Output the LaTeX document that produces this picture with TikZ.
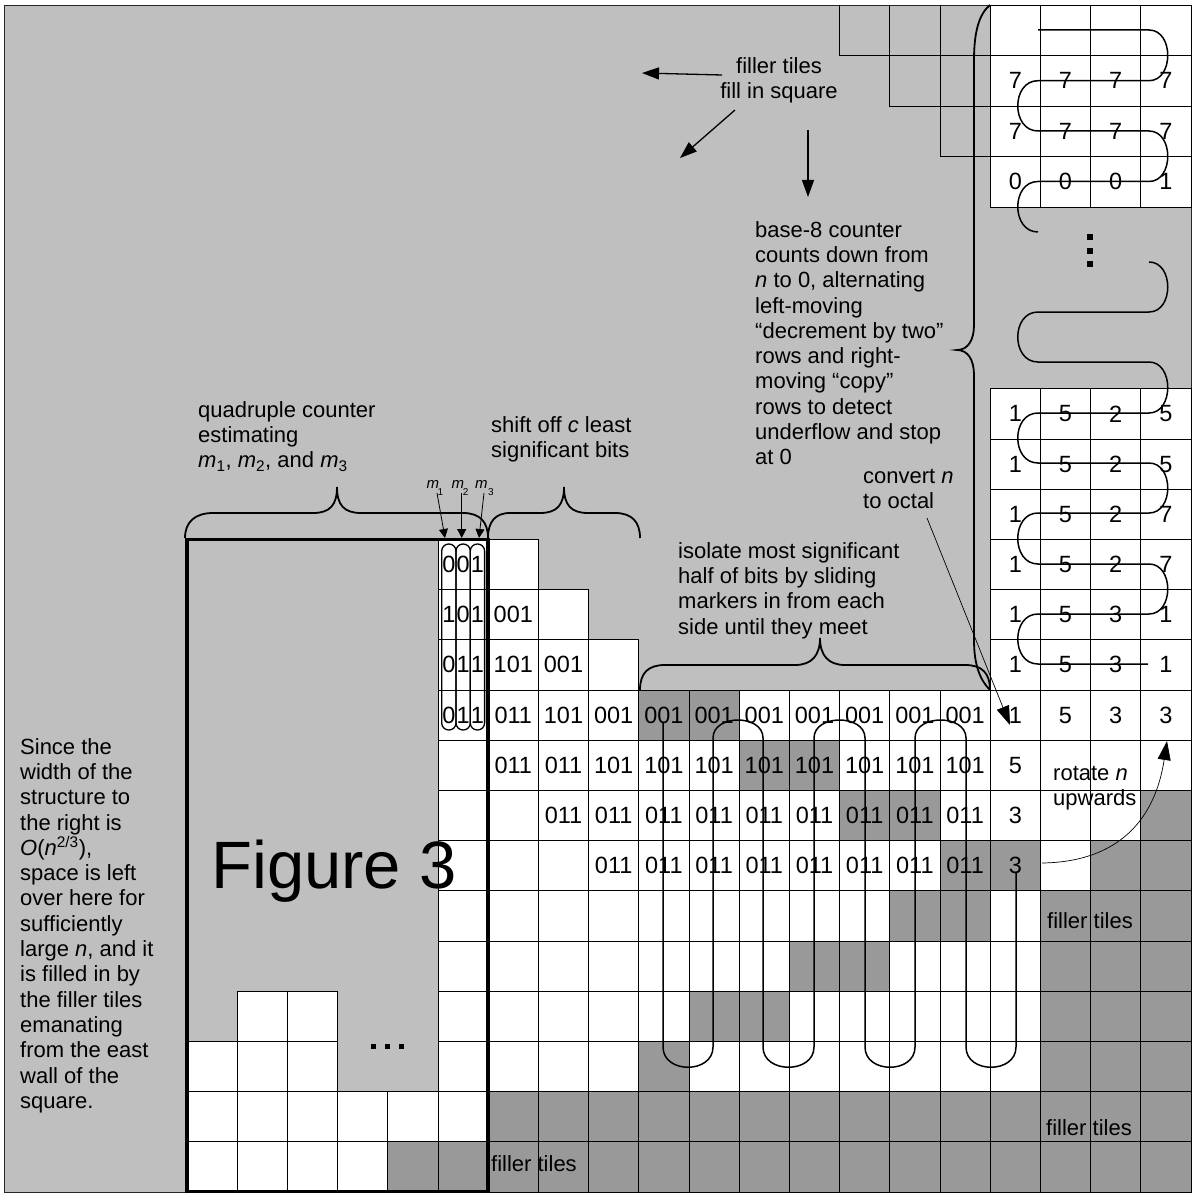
\documentclass[tikz,border=0pt]{standalone}
\usepackage{fontspec}
\setmainfont{Liberation Sans}
\usetikzlibrary{arrows.meta}
\definecolor{bgL}{HTML}{BFBFBF}
\definecolor{tileD}{HTML}{999999}
\newcommand\mytile[3]{\path[draw=black,line width=0.8pt,#1] ({187+50.2*(#2)},{539.4+50.2*((#3)-1)}) rectangle ++(50.2,50.2);}
\newcommand\mytxt[3]{\node[celltxt] (n#1r#2) at ({212.1+50.2*(#1)},{514.3+50.2*(#2)}) {#3};}
\begin{document}
\begin{tikzpicture}[x=1pt,y=-1pt,
  celltxt/.style={inner sep=0pt,font=\fontsize{23.5}{25}\selectfont},
  para/.style={inner sep=0pt,anchor=north west,align=left,font=\fontsize{22}{25.3}\selectfont},
  parac/.style={inner sep=0pt,anchor=north,align=center,font=\fontsize{22}{25.3}\selectfont},
  lbl/.style={inner sep=0pt,anchor=base west,font=\fontsize{22}{25.3}\selectfont},
  serp/.style={line width=1.5pt},
  brace/.style={line width=1.8pt},
  arr/.style={line width=1.3pt,-{Triangle[length=17pt,width=12pt]}},
  tarr/.style={line width=0.7pt,-{Triangle[length=19pt,width=13pt]}},
  marr/.style={line width=0.8pt,-{Triangle[length=9pt,width=9pt]}},
  mloop/.style={line width=1.3pt,rounded corners=7pt},
  mlab/.style={inner sep=0pt,anchor=base west,font=\fontsize{15}{15}\selectfont\itshape},
  msub/.style={inner sep=0pt,anchor=base west,font=\fontsize{10}{10}\selectfont}
]
\useasboundingbox (0,0) rectangle (1192,1193);
\draw[fill=bgL,draw=black!85,line width=0.9pt] (4,5) rectangle (1191,1192);

% top staircase outlines
\draw[line width=0.8pt] (839.6,5) -- (839.6,55.5) -- (990,55.5);
\draw[line width=0.8pt] (889.8,5) -- (889.8,106) -- (990,106);
\draw[line width=0.8pt] (940,5) -- (940,156.5) -- (990,156.5);
% top-right block
\foreach \c in {16,...,19} \foreach \yy in {5,55.5,106,156.5} {\path[draw=black,line width=0.8pt,fill=white] ({187+50.2*\c},\yy) rectangle ++(50.2,50.5);}

% grid tiles
\foreach \r/\a/\b/\s in {-2/16/19/white,-1/16/19/white,0/16/19/white,1/16/19/white,2/16/19/white,3/16/19/white,
 1/5/6/white,2/5/7/white,3/5/8/white,
 4/5/8/white,4/9/10/tileD,4/11/19/white,
 5/5/10/white,5/11/12/tileD,5/13/19/white,
 6/5/12/white,6/13/14/tileD,6/15/18/white,6/19/19/tileD,
 7/5/14/white,7/15/16/tileD,7/17/17/white,7/18/19/tileD,
 8/5/13/white,8/14/15/tileD,8/16/16/white,8/17/19/tileD,
 9/5/11/white,9/12/13/tileD,9/14/16/white,9/17/19/tileD,
 10/1/2/white,10/5/9/white,10/10/11/tileD,10/12/16/white,10/17/19/tileD,
 11/0/2/white,11/5/8/white,11/9/9/tileD,11/10/16/white,11/17/19/tileD,
 12/0/5/white,12/6/19/tileD,
 13/0/3/white,13/4/19/tileD}
 {\foreach \c in {\a,...,\b} {\mytile{fill=\s}{\c}{\r}}}

% thick rectangle
\draw[line width=3.5pt] (187,539.4) rectangle (488.2,1192);

% dots
\fill (370.5,1043.5) rectangle ++(5.5,5.5);
\fill (384.5,1043.5) rectangle ++(5.5,5.5);
\fill (398.5,1043.5) rectangle ++(5.5,5.5);
\fill (1087,234) rectangle ++(6,6);
\fill (1087,248) rectangle ++(6,6);
\fill (1087,261) rectangle ++(6,6);

% C5 counter digits and loops
\foreach \r/\da/\db/\dc in {1/0/0/1,2/1/0/1,3/0/1/1,4/0/1/1} {
  \node[celltxt] (qa\r) at (448.8,{514.3+50.2*\r}) {\da};
  \node[celltxt] (qb\r) at (463.1,{514.3+50.2*\r}) {\db};
  \node[celltxt] (qc\r) at (477.4,{514.3+50.2*\r}) {\dc};
}
\foreach \xa in {441.7,456,470.3} {\draw[mloop] (\xa,544) rectangle ++(14.3,186);}

% cell texts
\mytxt{6}{2}{001}\mytxt{6}{3}{101}\mytxt{6}{4}{011}\mytxt{6}{5}{011}
\mytxt{7}{3}{001}\mytxt{7}{4}{101}\mytxt{7}{5}{011}\mytxt{7}{6}{011}
\foreach \c in {8,...,15} {\mytxt{\c}{4}{001}\mytxt{\c}{5}{101}\mytxt{\c}{6}{011}\mytxt{\c}{7}{011}}
\mytxt{16}{4}{1}\mytxt{17}{4}{5}\mytxt{18}{4}{3}\mytxt{19}{4}{3}
\mytxt{16}{5}{5}\mytxt{16}{6}{3}\mytxt{16}{7}{3}
\foreach \r/\da/\db/\dc/\dd in {-2/1/5/2/5,-1/1/5/2/5,0/1/5/2/7,1/1/5/2/7,2/1/5/3/1,3/1/5/3/1}
 {\mytxt{16}{\r}{\da}\mytxt{17}{\r}{\db}\mytxt{18}{\r}{\dc}\mytxt{19}{\r}{\dd}}
\foreach \yy/\da/\db/\dc/\dd [count=\i] in {80.75/7/7/7/7,131.25/7/7/7/7,181.75/0/0/0/1}
 {\node[celltxt] (ta\i) at (1015.3,\yy) {\da};
  \node[celltxt] (tb\i) at (1065.5,\yy) {\db};
  \node[celltxt] (tc\i) at (1115.7,\yy) {\dc};
  \node[celltxt] (td\i) at (1165.9,\yy) {\dd};}

% filler tiles labels
\node[lbl] (f1) at (1047,928) {filler tiles};
\node[lbl] (f2) at (1046,1135) {filler tiles};
\node[lbl] (f3) at (491,1171) {filler tiles};

% Figure 3
\node[anchor=base west,inner sep=0pt,font=\fontsize{67}{72}\selectfont] (fig) at (211,888) {Figure 3};

% paragraphs
\node[parac] (ftop) at (779,57) {filler tiles\\fill in square};
\node[para] (base) at (755,221) {base-8 counter\\counts down from\\\textit{n} to 0, alternating\\left-moving\\“decrement by two”\\rows and right-\\moving “copy”\\rows to detect\\underflow and stop\\at 0};
\node[para] (conv) at (863,469) {convert \textit{n}\\to octal};
\node[para] (iso) at (678,542) {isolate most significant\\half of bits by sliding\\markers in from each\\side until they meet};
\node[para] (shift) at (491,416) {shift off \textit{c} least\\significant bits};
\node[para] (quad) at (198,401) {quadruple counter\\estimating\\\textit{m}\textsubscript{1}, \textit{m}\textsubscript{2}, and \textit{m}\textsubscript{3}};
\node[para] (rot) at (1053,766) {rotate \textit{n}\\upwards};
\node[para] (left) at (20,738) {Since the\\width of the\\structure to\\the right is\\\textit{O}(\textit{n}\textsuperscript{2/3}),\\space is left\\over here for\\sufficiently\\large \textit{n}, and it\\is filled in by\\the filler tiles\\emanating\\from the east\\wall of the\\square.};

% m labels and arrows
\node[mlab] (m1) at (426.5,488) {m};\node[msub] (s1) at (437.5,495) {1};
\node[mlab] (m2) at (451.5,488) {m};\node[msub] (s2) at (462.7,495) {2};
\node[mlab] (m3) at (475,488) {m};\node[msub] (s3) at (488,495) {3};
\coordinate (ma) at (437,493); \coordinate (mae) at (445,538);
\coordinate (mb) at (461.7,493); \coordinate (mbe) at (461.7,538);
\coordinate (mc) at (484,493); \coordinate (mce) at (479,538);
\draw[marr] (ma) -- (mae);
\draw[marr] (mb) -- (mbe);
\draw[marr] (mc) -- (mce);

% main serpentine
\draw[serp] (663,722) -- (663,1047) .. controls (663,1074) and (713,1074) .. (713,1047) -- (713,738)
 .. controls (713,714) and (763,714) .. (763,738) -- (763,1047) .. controls (763,1074) and (814,1074) .. (814,1047) -- (814,738)
 .. controls (814,714) and (865,714) .. (865,738) -- (865,1047) .. controls (865,1074) and (915,1074) .. (915,1047) -- (915,738)
 .. controls (915,714) and (966,714) .. (966,738) -- (966,1047) .. controls (966,1074) and (1016,1074) .. (1016,1047) -- (1016,873);

% top-right serpentines
\draw[serp] (1038,30) -- (1149,30) .. controls (1174,30) and (1174,80.7) .. (1149,80.7) -- (1038,80.7)
 .. controls (1011,80.7) and (1011,131) .. (1038,131) -- (1149,131) .. controls (1174,131) and (1174,181.5) .. (1149,181.5)
 -- (1038,181.5) .. controls (1011,181.5) and (1011,232) .. (1038,232);
\draw[serp] (1149,262) .. controls (1174,262) and (1174,312) .. (1149,312) -- (1038,312)
 .. controls (1011,312) and (1011,362) .. (1038,362) -- (1149,362) .. controls (1174,362) and (1174,413) .. (1149,413)
 -- (1038,413) .. controls (1011,413) and (1011,463) .. (1038,463) -- (1149,463) .. controls (1174,463) and (1174,513) .. (1149,513)
 -- (1038,513) .. controls (1011,513) and (1011,564) .. (1038,564) -- (1149,564) .. controls (1174,564) and (1174,614) .. (1149,614)
 -- (1038,614) .. controls (1011,614) and (1011,664) .. (1038,664) -- (1148,664);

% braces
\draw[brace] (185,538) .. controls (185,522) and (195,513) .. (213,513) -- (313,513) .. controls (330,513) and (337,505) .. (337,487)
 .. controls (337,505) and (344,513) .. (361,513) -- (463,513) .. controls (480,513) and (488,522) .. (488,538);
\draw[brace] (488,538) .. controls (488,522) and (495,513) .. (510,513) -- (540,513) .. controls (557,513) and (564,505) .. (564,487)
 .. controls (564,505) and (571,513) .. (588,513) -- (615,513) .. controls (632,513) and (640,522) .. (640,538);
\draw[brace] (640,690) .. controls (640,673) and (648,665) .. (665,665) -- (795,665) .. controls (812,665) and (820,655) .. (820,638)
 .. controls (820,655) and (828,665) .. (845,665) -- (965,665) .. controls (982,665) and (990,673) .. (990,690);
\draw[brace] (990,5) .. controls (979,14) and (974,32) .. (974,60) -- (974,325) .. controls (974,340) and (968,350) .. (957,350)
 .. controls (968,350) and (974,360) .. (974,375) -- (974,640) .. controls (974,665) and (980,680) .. (990,690);

% arrows
\coordinate (fa) at (722,75); \coordinate (fae) at (642,73);
\coordinate (fb) at (735,110); \coordinate (fbe) at (680,158);
\coordinate (fc) at (808,130); \coordinate (fce) at (808,197);
\draw[arr] (fa) -- (fae);
\draw[arr] (fb) -- (fbe);
\draw[arr] (fc) -- (fce);
\coordinate (ca) at (927,518); \coordinate (cae) at (1010,725);
\draw[tarr] (ca) -- (cae);
\coordinate (ra) at (1042,863); \coordinate (rae) at (1167,741);
\draw[tarr] (ra) .. controls (1118,862) and (1155,820) .. (rae);
\end{tikzpicture}
\end{document}
